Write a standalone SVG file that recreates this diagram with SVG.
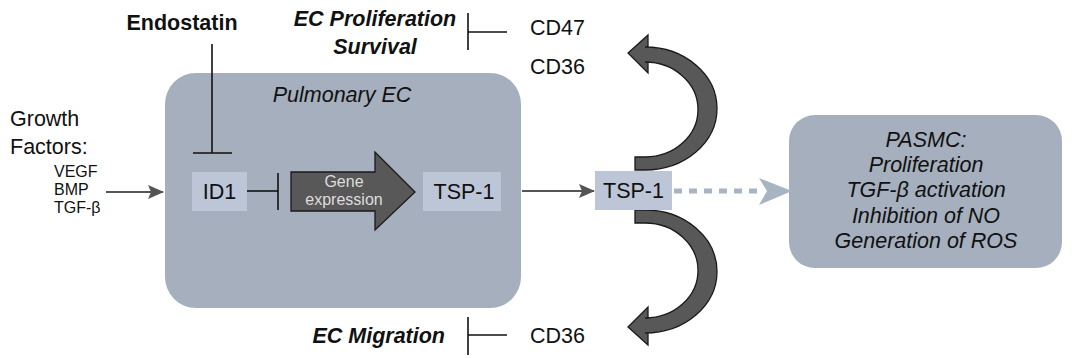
<svg xmlns="http://www.w3.org/2000/svg" width="1074" height="358" viewBox="0 0 1074 358">
  <style>
    text { font-family: "Liberation Sans", Arial, sans-serif; fill: #111; }
    .lbl { font-size: 21.5px; }
    .bi { font-size: 21.5px; font-weight: bold; font-style: italic; }
    .b { font-size: 21.5px; font-weight: bold; }
    .it { font-size: 21.5px; font-style: italic; }
    .sm { font-size: 16px; }
    .bigbox { fill: #a5afbd; }
    .smallbox { fill: #bcc6d7; }
    .inh { stroke: #111; stroke-width: 1.6; fill: none; }
    .conn { stroke: #555; stroke-width: 1.8; fill: none; }
    .fat { fill: #585858; stroke: #1a1a1a; stroke-width: 1.3; stroke-linejoin: miter; }
  </style>
  <defs>
    <marker id="arr" viewBox="0 0 16 14" refX="15" refY="7" markerWidth="16" markerHeight="14" markerUnits="userSpaceOnUse" orient="auto">
      <path d="M0,0 L16,7 L0,14 L3,7 Z" fill="#555"/>
    </marker>
  </defs>
  <rect width="1074" height="358" fill="#ffffff"/>

  <g id="node-pulmonary-ec">
    <rect class="bigbox" x="165" y="73" width="356" height="235" rx="31" ry="31"/>
    <text class="it" x="342" y="102" text-anchor="middle">Pulmonary EC</text>
  </g>

  <g id="node-pasmc">
    <rect class="bigbox" x="789" y="115" width="273" height="153" rx="26" ry="26"/>
    <text class="it" x="926" y="147" text-anchor="middle">PASMC:</text>
    <text class="it" x="926" y="172" text-anchor="middle">Proliferation</text>
    <text class="it" x="926" y="197" text-anchor="middle">TGF-β activation</text>
    <text class="it" x="926" y="223" text-anchor="middle">Inhibition of NO</text>
    <text class="it" x="926" y="248" text-anchor="middle">Generation of ROS</text>
  </g>

  <g id="node-endostatin">
    <text class="b" x="182" y="30" text-anchor="middle">Endostatin</text>
  </g>

  <g id="node-ec-proliferation">
    <text class="bi" x="375" y="26" text-anchor="middle">EC Proliferation</text>
    <text class="bi" x="375" y="54" text-anchor="middle">Survival</text>
  </g>

  <g id="node-cd47">
    <text class="lbl" x="530" y="35">CD47</text>
  </g>

  <g id="node-cd36-top">
    <text class="lbl" x="530" y="74">CD36</text>
  </g>

  <g id="node-growth-factors">
    <text class="lbl" x="10" y="126">Growth</text>
    <text class="lbl" x="10" y="154">Factors:</text>
    <text class="sm" x="54" y="177">VEGF</text>
    <text class="sm" x="54" y="195">BMP</text>
    <text class="sm" x="54" y="213">TGF-β</text>
  </g>

  <g id="node-id1">
    <rect class="smallbox" x="192" y="172" width="55" height="39"/>
    <text class="lbl" x="219.5" y="199" text-anchor="middle">ID1</text>
  </g>

  <g id="node-gene-expression">
    <path class="fat" d="M291,172 L375,172 L375,152 L415,192 L375,230 L375,211 L291,211 Z"/>
    <text class="sm" x="344" y="187" text-anchor="middle" style="fill:#dedede">Gene</text>
    <text class="sm" x="344" y="205" text-anchor="middle" style="fill:#dedede">expression</text>
  </g>

  <g id="node-tsp1-inner">
    <rect class="smallbox" x="423" y="172" width="78" height="39"/>
    <text class="lbl" x="464" y="199" text-anchor="middle">TSP-1</text>
  </g>

  <g id="node-ec-migration">
    <text class="bi" x="445" y="343" text-anchor="end">EC Migration</text>
  </g>

  <g id="node-cd36-bottom">
    <text class="lbl" x="530" y="343">CD36</text>
  </g>

  <g id="connectors">
    <!-- growth factors -> ID1 -->
    <line class="conn" x1="106" y1="192" x2="163" y2="192" marker-end="url(#arr)"/>
    <!-- endostatin -| ID1 -->
    <line class="inh" x1="212" y1="44" x2="212" y2="153"/>
    <line class="inh" x1="193" y1="153" x2="232" y2="153"/>
    <!-- ID1 -| gene expression -->
    <line class="inh" x1="247" y1="191" x2="278" y2="191"/>
    <line class="inh" x1="278" y1="173" x2="278" y2="210"/>
    <!-- TSP-1 -> TSP-1 -->
    <line class="conn" x1="522" y1="191" x2="594" y2="191" marker-end="url(#arr)"/>
    <!-- CD47 -| EC proliferation -->
    <line class="inh" x1="468" y1="13" x2="468" y2="50"/>
    <line class="inh" x1="468" y1="32" x2="507" y2="32"/>
    <!-- CD36 -| EC migration -->
    <line class="inh" x1="468" y1="317" x2="468" y2="355"/>
    <line class="inh" x1="468" y1="335" x2="507" y2="335"/>
    <!-- dashed TSP-1 -> PASMC -->
    <line x1="674" y1="191" x2="762" y2="191" stroke="#a9b4c3" stroke-width="5" stroke-dasharray="8 7"/>
    <polygon points="759,178 792,191 759,205 767,191" fill="#a9b4c3"/>
    <!-- curved arrows -->
    <path class="fat" d="M635,170 L645,170 A72,61.5 0 0 0 645,47 L648,47 L648,35 L628,53 L648,73 L648,62 L645,62 A53,47.5 0 0 1 645,157 L635,157 Z"/>
    <path class="fat" transform="matrix(1,0,0,-1,0,380)" d="M635,170 L645,170 A72,61.5 0 0 0 645,47 L648,47 L648,35 L628,53 L648,73 L648,62 L645,62 A53,47.5 0 0 1 645,157 L635,157 Z"/>
  </g>

  <g id="node-tsp1-outer">
    <rect class="smallbox" x="595" y="171" width="77" height="39"/>
    <text class="lbl" x="633.5" y="198" text-anchor="middle">TSP-1</text>
  </g>
</svg>
